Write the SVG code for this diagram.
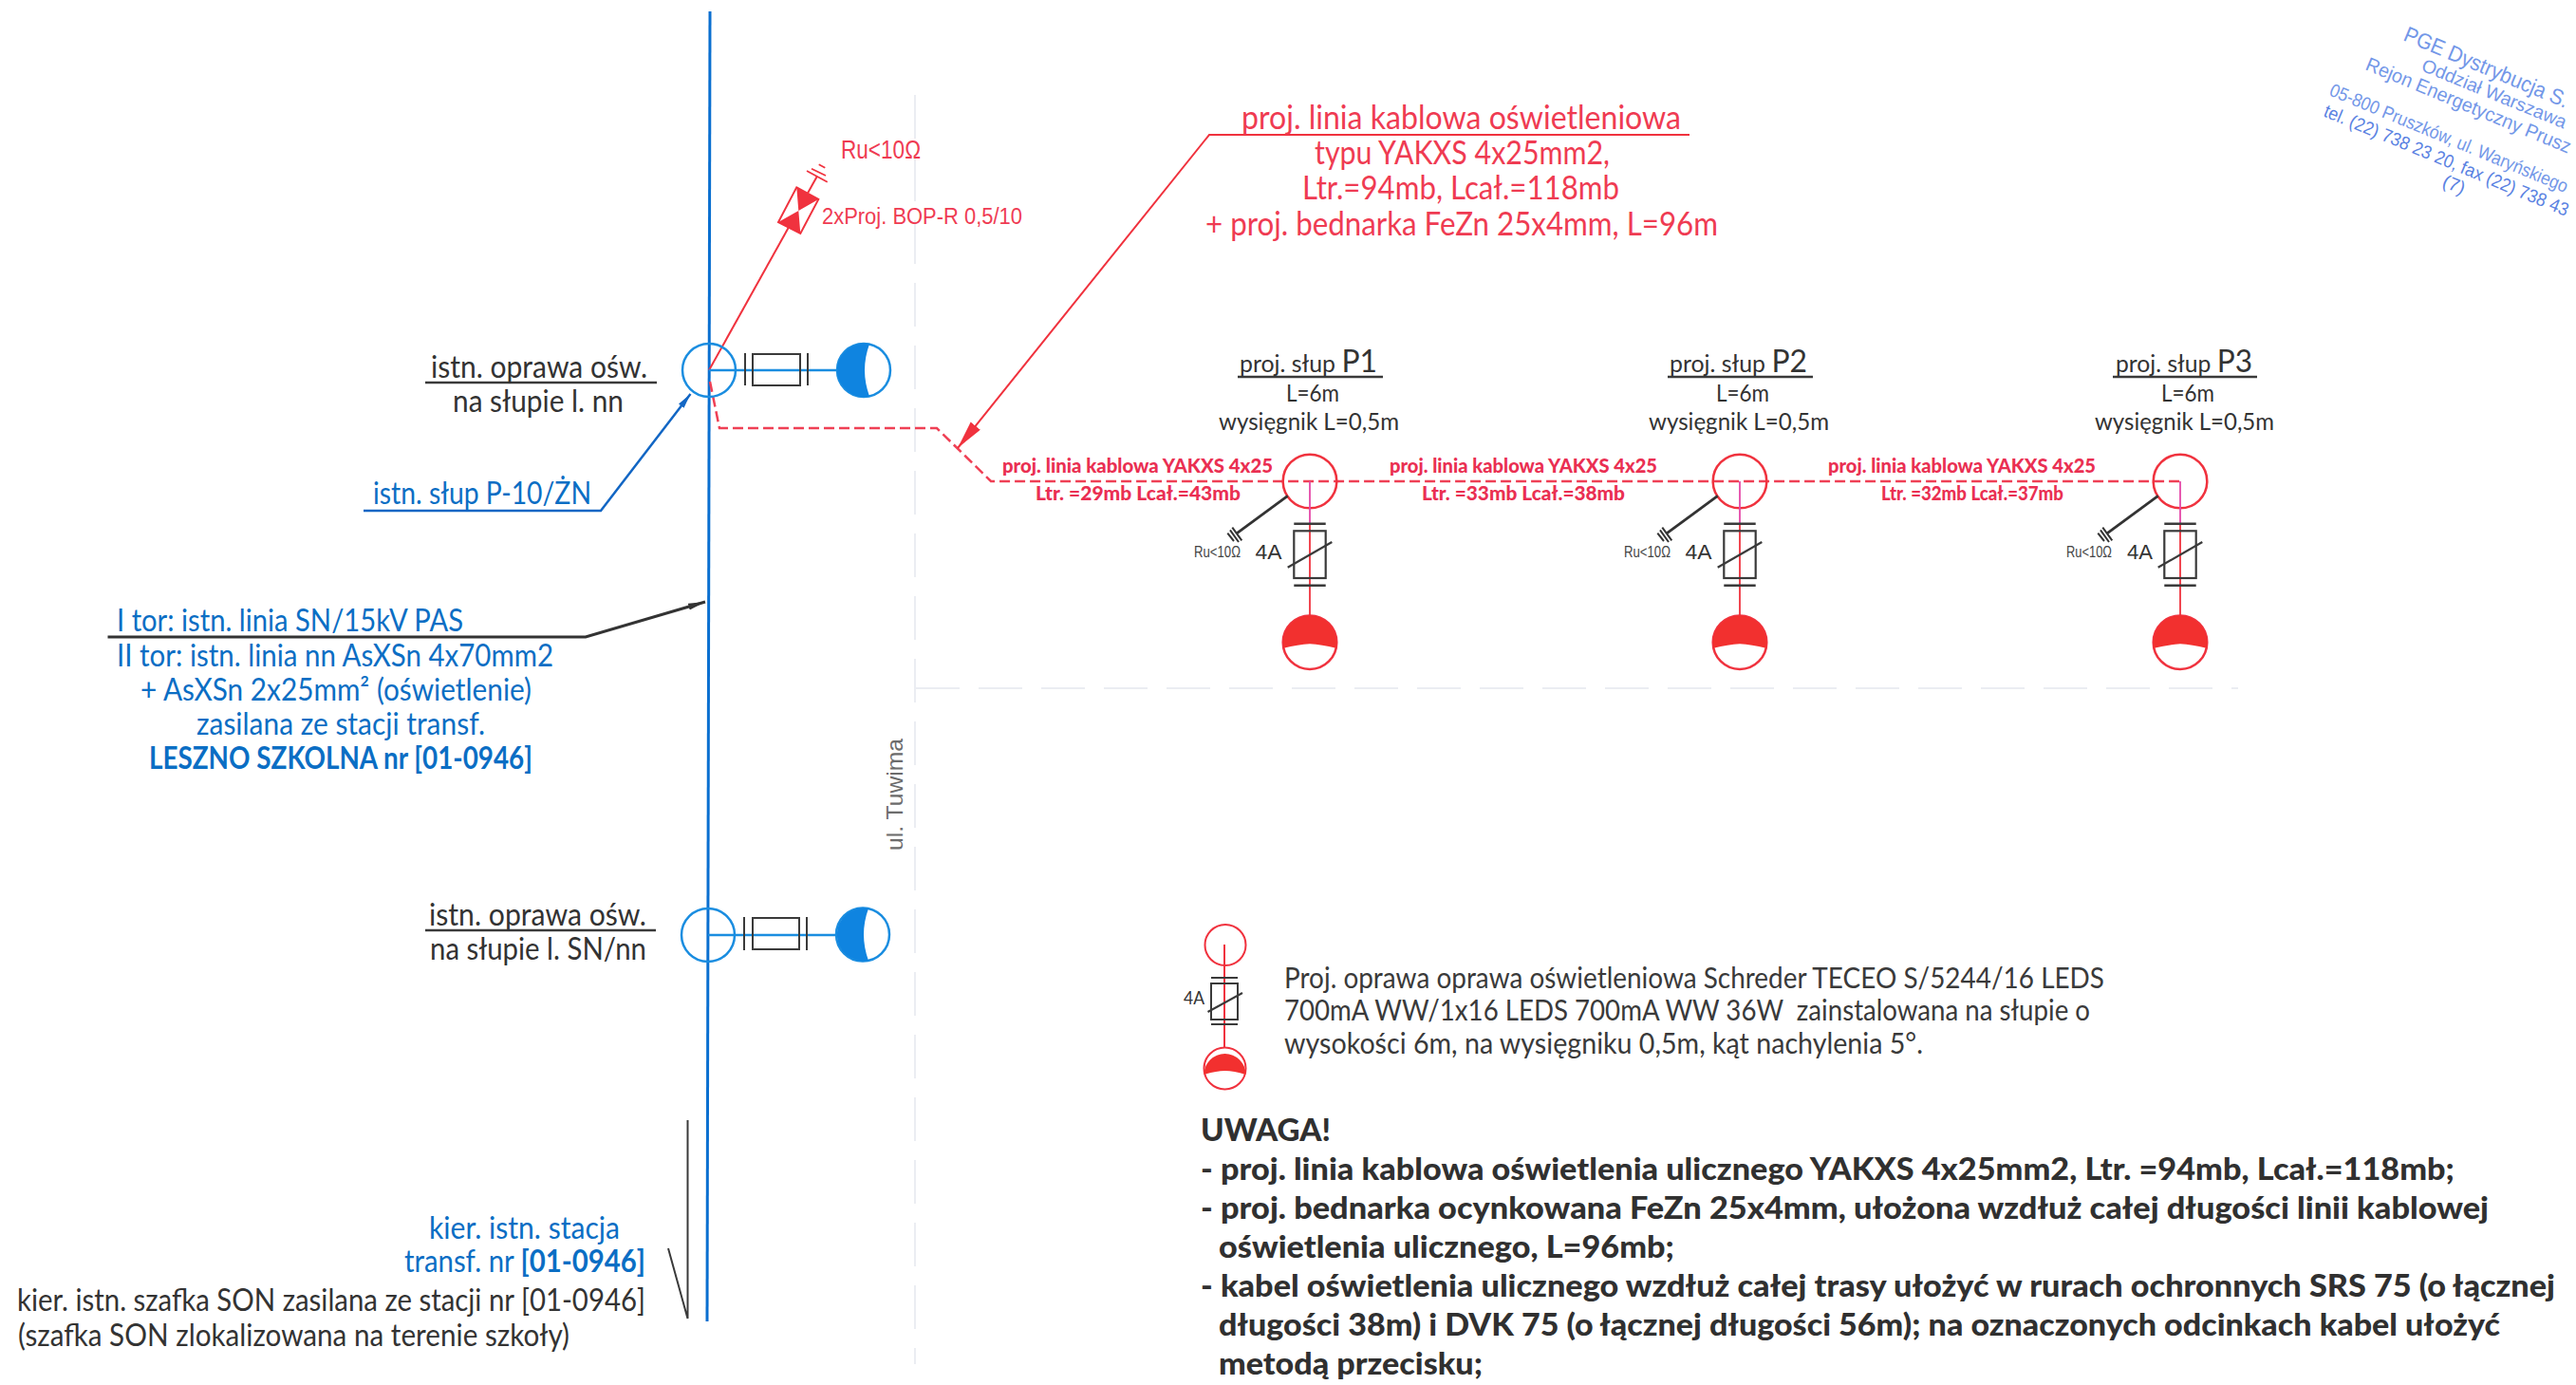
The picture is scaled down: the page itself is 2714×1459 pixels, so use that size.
<svg xmlns="http://www.w3.org/2000/svg" xmlns:xlink="http://www.w3.org/1999/xlink" width="2714" height="1459" viewBox="0 0 2714 1459">
<style>
text{font-family:"Lato","Carlito","Open Sans",sans-serif;font-size:32px;fill:#333;}
.blue{fill:#0b6ec4;}
.red{fill:#ef3b52;}
.big{font-size:34px;}
.redbold{fill:#ea2f52;font-weight:900;font-size:20px;}
.note{font-weight:900;font-size:33px;fill:#303030;}
.legend{font-size:30px;fill:#3a3a3a;}
.small{font-size:16px;font-family:"Liberation Sans",sans-serif;fill:#444;}
.amp{font-size:22px;font-family:"Liberation Sans",sans-serif;}
.stamp{font-family:"Liberation Sans",sans-serif;fill:#7397e8;}
.bk{stroke:#3a3a3a;stroke-width:2.5;fill:none;}
.thin{stroke:#3a3a3a;stroke-width:2;fill:none;}
.rd{stroke:#f0323e;stroke-width:2;fill:none;}
.bl{stroke:#1a8de0;stroke-width:2.5;fill:none;}
.faint{stroke:#ebedf2;stroke-width:2;fill:none;stroke-dasharray:46 20;}
</style>
<defs>
<marker id="arrow-red" markerUnits="userSpaceOnUse" markerWidth="32" markerHeight="14" refX="30" refY="6.5" orient="auto"><path d="M0,0 L30,6.5 L0,13 Z" fill="#f0323e"/></marker>
<marker id="arrow-black" markerUnits="userSpaceOnUse" markerWidth="20" markerHeight="8" refX="18" refY="3.5" orient="auto"><path d="M0,0 L18,3.5 L0,7 Z" fill="#333"/></marker>
<marker id="arrow-blue" markerUnits="userSpaceOnUse" markerWidth="18" markerHeight="8" refX="16" refY="3.5" orient="auto"><path d="M0,0 L16,3.5 L0,7 Z" fill="#1266c4"/></marker>
<g id="proj-pole">
<circle cx="0" cy="0" r="28.300" fill="none" stroke="#f0323e" stroke-width="2.500"/>
<path d="M0,0 V45" stroke="#e548a8" stroke-width="1.800" fill="none"/>
<path d="M0,45 V141" stroke="#f0323e" stroke-width="1.800" fill="none"/>
<path d="M-16.700,44.700 H16.700 M-16.700,109.700 H16.700" stroke="#3a3a3a" stroke-width="2.500" fill="none"/>
<rect x="-16.700" y="52.300" width="33.400" height="49.700" fill="none" stroke="#3a3a3a" stroke-width="2.200"/>
<path d="M-23.300,90.700 L23.300,64" stroke="#3a3a3a" stroke-width="2.200" fill="none"/>
<path d="M-23.300,15.300 L-76.700,54.700" stroke="#333" stroke-width="2.800" fill="none"/>
<path d="M-81.700,48.700 L-71.700,62.300 M-84,51.300 L-75,64 M-86.700,54.700 L-80,63" stroke="#333" stroke-width="2" fill="none"/>
<circle cx="0" cy="169.700" r="28.300" fill="#fff" stroke="#f0323e" stroke-width="2.500"/>
<path d="M-27.700,175.700 A28.300,28.300 0 1 1 27.700,175.700 Q12,172 0,171.300 Q-12,172 -27.700,175.700 Z" fill="#f2302f"/>
</g>
</defs>
<rect width="2714" height="1459" fill="#ffffff"/>

<g id="road">
<path class="faint" d="M964,100 V1437"/>
<path class="faint" d="M965,725 H2358"/>
<text x="951" y="896" transform="rotate(-90 951 896)" textLength="118" lengthAdjust="spacingAndGlyphs" style="font-family:'Liberation Sans',sans-serif;font-size:24px;fill:#6c6c6c">ul. Tuwima</text>
</g>

<g id="connectors">
<path d="M748,12 L745,1392" stroke="#0a6fd0" stroke-width="3" fill="none"/>
<path d="M747,390 L860.700,186" class="rd"/>
<path d="M748,402 L758,451 H987 L1044,507 H2297" stroke="#ef4055" stroke-width="2.500" stroke-dasharray="11 5" fill="none"/>
<path d="M1780,142 H1274 L1009,472" class="rd" marker-end="url(#arrow-red)"/>
<path d="M383,538 H633 L727.500,415" stroke="#1266c4" stroke-width="2.500" fill="none" marker-end="url(#arrow-blue)"/>
<path d="M113.500,671 H617 L743,634" stroke="#333" stroke-width="3" fill="none" marker-end="url(#arrow-black)"/>
<path d="M724.500,1180 V1389 L704,1315" class="thin"/>
<path d="M448,403 H692 M448,980 H691" class="bk"/>
<path d="M1304,397 H1457 M1757,397 H1910 M2226,397 H2378" class="bk"/>
</g>

<g id="node-existing-lamp-1">
<circle cx="747" cy="390" r="28" class="bl"/>
<path d="M747,390 H882" stroke="#1a8de0" stroke-width="2.500" fill="none"/>
<path d="M785,372 V406 M851,372 V406" class="thin"/>
<rect x="793" y="373" width="50" height="33" class="thin"/>
<circle cx="910" cy="390" r="28" fill="#fff" stroke="#1a8de0" stroke-width="2.500"/>
<path d="M916,362.600 A28,28 0 1 0 916,417.400 Q906,390 916,362.600 Z" fill="#0f84e0"/>
<text x="454" y="398" textLength="228" lengthAdjust="spacingAndGlyphs">istn. oprawa ośw.</text>
<text x="477" y="434" textLength="180" lengthAdjust="spacingAndGlyphs">na słupie l. nn</text>
</g>

<g id="node-surge-arrester">
<path d="M839.300,197.300 L862.300,210 L843.300,246 L820,234 Z" stroke="#f0323e" stroke-width="2" fill="#fff"/>
<path d="M839.300,197.300 L862.300,210 L841.300,222 Z M843.300,246 L820,234 L841.300,222 Z" fill="#f0323e"/>
<path d="M850,180 L871.700,191.700 M855,177.700 L870,185 M862.700,173.300 L869.300,176.700" stroke="#f0323e" stroke-width="1.800" fill="none"/>
<text class="red" x="886" y="167" textLength="84" lengthAdjust="spacingAndGlyphs" style="font-family:'Liberation Sans',sans-serif;font-size:27px">Ru&lt;10Ω</text>
<text class="red" x="866" y="236" textLength="211" lengthAdjust="spacingAndGlyphs" style="font-family:'Liberation Sans',sans-serif;font-size:23px">2xProj. BOP-R 0,5/10</text>
</g>

<g id="node-existing-pole-label">
<text class="blue" x="393" y="531" textLength="230" lengthAdjust="spacingAndGlyphs">istn. słup P-10/ŻN</text>
</g>

<g id="node-line-label">
<text class="blue" x="123" y="665" textLength="365" lengthAdjust="spacingAndGlyphs">I tor: istn. linia SN/15kV PAS</text>
<text class="blue" x="123" y="702" textLength="460" lengthAdjust="spacingAndGlyphs">II tor: istn. linia nn AsXSn 4x70mm2</text>
<text class="blue" x="148" y="738" textLength="412" lengthAdjust="spacingAndGlyphs">+ AsXSn 2x25mm² (oświetlenie)</text>
<text class="blue" x="207" y="774" textLength="304" lengthAdjust="spacingAndGlyphs">zasilana ze stacji transf.</text>
<text class="blue" x="157" y="810" textLength="404" lengthAdjust="spacingAndGlyphs" font-weight="700">LESZNO SZKOLNA nr [01-0946]</text>
</g>

<g id="node-existing-lamp-2">
<circle cx="746" cy="985" r="28" class="bl"/>
<path d="M746,985 H880" stroke="#1a8de0" stroke-width="2.500" fill="none"/>
<path d="M784,966 V1001 M850,966 V1001" class="thin"/>
<rect x="793" y="967" width="49" height="33" class="thin"/>
<circle cx="909" cy="984.500" r="28" fill="#fff" stroke="#1a8de0" stroke-width="2.500"/>
<path d="M915,957 A28,28 0 1 0 915,1012 Q905,984.500 915,957 Z" fill="#0f84e0"/>
<text x="452" y="975" textLength="229" lengthAdjust="spacingAndGlyphs">istn. oprawa ośw.</text>
<text x="453" y="1011" textLength="228" lengthAdjust="spacingAndGlyphs">na słupie l. SN/nn</text>
</g>

<g id="node-direction-labels">
<text class="blue" x="452" y="1305" textLength="201" lengthAdjust="spacingAndGlyphs">kier. istn. stacja</text>
<text class="blue" x="426" y="1340" textLength="254" lengthAdjust="spacingAndGlyphs">transf. nr <tspan font-weight="700">[01-0946]</tspan></text>
<text x="18" y="1381" textLength="662" lengthAdjust="spacingAndGlyphs">kier. istn. szafka SON zasilana ze stacji nr [01-0946]</text>
<text x="19" y="1418" textLength="581" lengthAdjust="spacingAndGlyphs">(szafka SON zlokalizowana na terenie szkoły)</text>
</g>

<g id="node-cable-callout">
<text class="red big" x="1308" y="136" textLength="463" lengthAdjust="spacingAndGlyphs">proj. linia kablowa oświetleniowa</text>
<text class="red big" x="1385" y="173" textLength="311" lengthAdjust="spacingAndGlyphs">typu YAKXS 4x25mm2,</text>
<text class="red big" x="1372" y="210" textLength="334" lengthAdjust="spacingAndGlyphs">Ltr.=94mb, Lcał.=118mb</text>
<text class="red big" x="1270" y="248" textLength="540" lengthAdjust="spacingAndGlyphs">+ proj. bednarka FeZn 25x4mm, L=96m</text>
</g>

<g id="node-cable-labels">
<text class="redbold" x="1056" y="498" textLength="285" lengthAdjust="spacingAndGlyphs">proj. linia kablowa YAKXS 4x25</text>
<text class="redbold" x="1091" y="527" textLength="216" lengthAdjust="spacingAndGlyphs">Ltr. =29mb Lcał.=43mb</text>
<text class="redbold" x="1464" y="498" textLength="282" lengthAdjust="spacingAndGlyphs">proj. linia kablowa YAKXS 4x25</text>
<text class="redbold" x="1498" y="527" textLength="214" lengthAdjust="spacingAndGlyphs">Ltr. =33mb Lcał.=38mb</text>
<text class="redbold" x="1926" y="498" textLength="282" lengthAdjust="spacingAndGlyphs">proj. linia kablowa YAKXS 4x25</text>
<text class="redbold" x="1982" y="527" textLength="192" lengthAdjust="spacingAndGlyphs">Ltr. =32mb Lcał.=37mb</text>
</g>

<g id="node-pole-p1">
<use xlink:href="#proj-pole" href="#proj-pole" transform="translate(1380 507)"/>
<text x="1306" y="392" textLength="145" lengthAdjust="spacingAndGlyphs" style="font-size:25px">proj. słup <tspan style="font-size:32px">P1</tspan></text>
<text x="1355" y="423" textLength="56" lengthAdjust="spacingAndGlyphs" style="font-size:25px">L=6m</text>
<text x="1284" y="453" textLength="190" lengthAdjust="spacingAndGlyphs" style="font-size:25px">wysięgnik L=0,5m</text>
<text class="small" x="1258" y="587" textLength="49" lengthAdjust="spacingAndGlyphs">Ru&lt;10Ω</text>
<text class="amp" x="1322.500" y="589" textLength="28" lengthAdjust="spacingAndGlyphs">4A</text>
</g>

<g id="node-pole-p2">
<use xlink:href="#proj-pole" href="#proj-pole" transform="translate(1833 507)"/>
<text x="1759" y="392" textLength="145" lengthAdjust="spacingAndGlyphs" style="font-size:25px">proj. słup <tspan style="font-size:32px">P2</tspan></text>
<text x="1808" y="423" textLength="56" lengthAdjust="spacingAndGlyphs" style="font-size:25px">L=6m</text>
<text x="1737" y="453" textLength="190" lengthAdjust="spacingAndGlyphs" style="font-size:25px">wysięgnik L=0,5m</text>
<text class="small" x="1711" y="587" textLength="49" lengthAdjust="spacingAndGlyphs">Ru&lt;10Ω</text>
<text class="amp" x="1775.500" y="589" textLength="28" lengthAdjust="spacingAndGlyphs">4A</text>
</g>

<g id="node-pole-p3">
<use xlink:href="#proj-pole" href="#proj-pole" transform="translate(2297 507)"/>
<text x="2229" y="392" textLength="144" lengthAdjust="spacingAndGlyphs" style="font-size:25px">proj. słup <tspan style="font-size:32px">P3</tspan></text>
<text x="2277" y="423" textLength="56" lengthAdjust="spacingAndGlyphs" style="font-size:25px">L=6m</text>
<text x="2207" y="453" textLength="189" lengthAdjust="spacingAndGlyphs" style="font-size:25px">wysięgnik L=0,5m</text>
<text class="small" x="2177" y="587" textLength="48" lengthAdjust="spacingAndGlyphs">Ru&lt;10Ω</text>
<text class="amp" x="2241" y="589" textLength="27" lengthAdjust="spacingAndGlyphs">4A</text>
</g>

<g id="node-legend">
<circle cx="1291" cy="995.500" r="21.500" stroke="#f0323e" stroke-width="2" fill="none"/>
<path d="M1290,995 V1103" class="rd"/>
<path d="M1276,1030 H1304 M1276,1079 H1304" class="thin"/>
<rect x="1276" y="1036" width="28" height="38" class="thin"/>
<path d="M1272.500,1066 L1309,1046" class="thin"/>
<circle cx="1290.500" cy="1125.500" r="22" fill="#fff" stroke="#f0323e" stroke-width="2"/>
<path d="M1268.500,1132 A22,22 0 1 1 1312.500,1132 Q1300,1128 1290.500,1128 Q1281,1128 1268.500,1132 Z" fill="#f2302f"/>
<text x="1247" y="1058" textLength="22" lengthAdjust="spacingAndGlyphs" style="font-size:19px">4A</text>
<text class="legend" x="1353" y="1041" textLength="864" lengthAdjust="spacingAndGlyphs">Proj. oprawa oprawa oświetleniowa Schreder TECEO S/5244/16 LEDS</text>
<text class="legend" x="1353" y="1075" textLength="849" lengthAdjust="spacingAndGlyphs" xml:space="preserve">700mA WW/1x16 LEDS 700mA WW 36W  zainstalowana na słupie o</text>
<text class="legend" x="1353" y="1110" textLength="673" lengthAdjust="spacingAndGlyphs">wysokości 6m, na wysięgniku 0,5m, kąt nachylenia 5°.</text>
</g>

<g id="node-notes">
<text class="note" x="1265" y="1202" textLength="137" lengthAdjust="spacingAndGlyphs">UWAGA!</text>
<text class="note" x="1265" y="1243" textLength="1321" lengthAdjust="spacingAndGlyphs">- proj. linia kablowa oświetlenia ulicznego YAKXS 4x25mm2, Ltr. =94mb, Lcał.=118mb;</text>
<text class="note" x="1265" y="1284" textLength="1357" lengthAdjust="spacingAndGlyphs">- proj. bednarka ocynkowana FeZn 25x4mm, ułożona wzdłuż całej długości linii kablowej</text>
<text class="note" x="1284" y="1325" textLength="480" lengthAdjust="spacingAndGlyphs">oświetlenia ulicznego, L=96mb;</text>
<text class="note" x="1265" y="1366" textLength="1427" lengthAdjust="spacingAndGlyphs">- kabel oświetlenia ulicznego wzdłuż całej trasy ułożyć w rurach ochronnych SRS 75 (o łącznej</text>
<text class="note" x="1284" y="1407" textLength="1350" lengthAdjust="spacingAndGlyphs">długości 38m) i DVK 75 (o łącznej długości 56m); na oznaczonych odcinkach kabel ułożyć</text>
<text class="note" x="1284" y="1448" textLength="278" lengthAdjust="spacingAndGlyphs">metodą przecisku;</text>
</g>

<g id="node-stamp">
<text class="stamp" transform="translate(2531 42) rotate(22.800)" textLength="186" lengthAdjust="spacingAndGlyphs" style="font-size:23px">PGE Dystrybucja S.</text>
<text class="stamp" transform="translate(2550 74) rotate(22.200)" textLength="163" lengthAdjust="spacingAndGlyphs" style="font-size:19.500px">Oddział Warszawa</text>
<text class="stamp" transform="translate(2491 73) rotate(22.500)" textLength="232" lengthAdjust="spacingAndGlyphs" style="font-size:20.500px">Rejon Energetyczny Prusz</text>
<text class="stamp" transform="translate(2453 100) rotate(22.500)" textLength="270" lengthAdjust="spacingAndGlyphs" style="font-size:19.500px">05-800 Pruszków, ul. Waryńskiego</text>
<text class="stamp" transform="translate(2447 122) rotate(22.500)" textLength="277" lengthAdjust="spacingAndGlyphs" style="font-size:19.500px;fill:#5a82e2">tel. (22) 738 23 20, fax (22) 738 43</text>
<text class="stamp" transform="translate(2572 196) rotate(22.500)" style="font-size:19.500px;fill:#5a82e2">(7)</text>
</g>
</svg>
